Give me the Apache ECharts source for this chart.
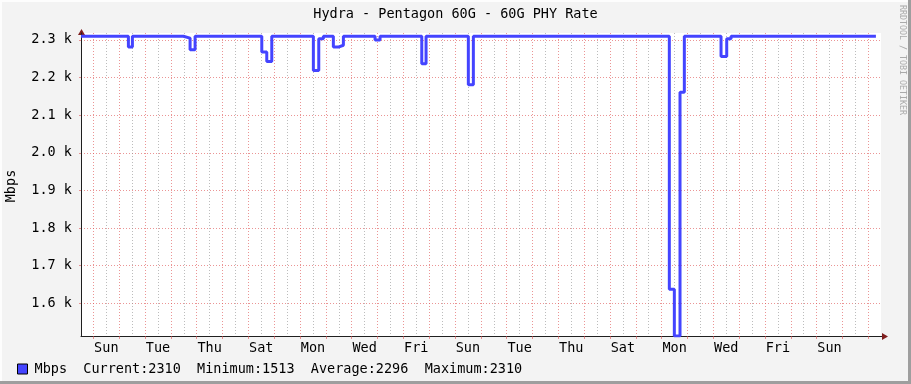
<!DOCTYPE html>
<html><head><meta charset="utf-8">
<script src="https://cdn.jsdelivr.net/npm/echarts@6/dist/echarts.min.js"></script>
<style>html,body{margin:0;padding:0;background:#f3f3f3}#c{width:911px;height:384px}</style>
</head><body><div id="c"></div>
<script>
// ---- data ----
const chartTitle = 'Hydra - Pentagon 60G - 60G PHY Rate';
const unitLabel = 'Mbps';
// time in days, 0 = first midnight shown (Sat->Sun)
const times  = [-0.48, 1.355, 1.510, 3.484, 3.743, 3.937, 6.519, 6.712, 6.906, 8.516, 8.725, 8.903,
                9.290, 9.484, 9.678, 10.905, 11.098, 12.713, 12.879, 14.516, 14.710,
                22.297, 22.491, 22.711, 22.878, 24.299, 24.519, 24.686, 30.295];
const values = [2310, 2281, 2310, 2305, 2274, 2310, 2268, 2243, 2310, 2219, 2303, 2310,
                2281, 2286, 2310, 2300, 2310, 2237, 2310, 2181, 2310,
                1637, 1513, 2161, 2310, 2256, 2303, 2310, 2310];
const yTicks = [1600, 1700, 1800, 1900, 2000, 2100, 2200, 2300];
const dayNames = ['Sun','Tue','Thu','Sat','Mon','Wed','Fri','Sun','Tue','Thu','Sat','Mon','Wed','Fri','Sun'];
const dayLabelPos = [0.5,2.5,4.5,6.5,8.5,10.5,12.5,14.5,16.5,18.5,20.5,22.5,24.5,26.5,28.5];
const majorGrid = [0,1,2,3,4,5,6,7,8,9,10,11,12,13,14,15,16,17,18,19,20,21,22,23,24,25,26,27,28,29,30];
const minorGrid = [0.5,1.5,2.5,3.5,4.5,5.5,6.5,7.5,8.5,9.5,10.5,11.5,12.5,13.5,14.5,15.5,16.5,17.5,18.5,19.5,20.5,21.5,22.5,23.5,24.5,25.5,26.5,27.5,28.5,29.5];
const statNames = ['Current','Minimum','Average','Maximum'];
const statValues = [2310, 1513, 2296, 2310];

// ---- chart ----
const MONO = '"DejaVu Sans Mono", monospace';
const FS = 13.5;
const MAJ = 'rgba(222,79,79,0.6)';
const MIN = 'rgba(143,143,143,0.6)';
const AXIS = '#1f1f1f';
const ARROW = '#801f1f';
const X0 = -0.48, X1 = 30.492;

const legendText = unitLabel + '  ' + statNames.map((n,i)=>n+':'+statValues[i]).join('  ');

const chart = echarts.init(document.getElementById('c'), null, {renderer:'canvas'});
chart.setOption({
  animation: false,
  backgroundColor: '#f3f3f3',
  grid: {left: 81, right: 30, top: 33, bottom: 48, show: true, backgroundColor: '#ffffff', borderWidth: 0},
  xAxis: [{
    type: 'value', min: X0, max: X1,
    axisLine: {show: true, onZero: false, lineStyle: {color: AXIS, width: 1}},
    axisTick: {show: true, customValues: majorGrid, length: 3, lineStyle: {color: MAJ}},
    splitLine: {show: true, lineStyle: {color: MAJ, type: [1, 2], width: 1}},
    axisLabel: {customValues: dayLabelPos, margin: 5, color: '#000', fontFamily: MONO, fontSize: FS,
      formatter: v => dayNames[Math.round((v - 0.5) / 2)]}
  }, {
    type: 'value', min: X0, max: X1, position: 'bottom',
    axisLine: {show: false}, axisLabel: {show: false},
    axisTick: {show: false, customValues: minorGrid},
    splitLine: {show: true, lineStyle: {color: MIN, type: [1, 2], width: 1}}
  }],
  yAxis: {
    type: 'value', min: 1513, max: 2318.5,
    axisLine: {show: true, onZero: false, lineStyle: {color: AXIS, width: 1}},
    axisTick: {show: true, customValues: yTicks, length: 2, lineStyle: {color: MAJ}},
    splitLine: {show: true, lineStyle: {color: MAJ, type: [1, 2], width: 1}},
    axisLabel: {customValues: yTicks, margin: 9, color: '#000', fontFamily: MONO, fontSize: FS,
      formatter: v => (v / 1000).toFixed(1) + ' k'}
  },
  legend: {
    left: 17, top: 362, padding: 0, itemWidth: 10, itemHeight: 10, icon: 'rect', selectedMode: false,
    itemStyle: {color: '#4444ff', borderColor: '#000', borderWidth: 1},
    textStyle: {fontFamily: MONO, fontSize: FS, color: '#000', padding: [0, 0, 0, 2]},
    formatter: () => legendText,
    data: [unitLabel]
  },
  series: [{
    name: unitLabel, type: 'line', step: 'end', showSymbol: false, xAxisIndex: 0,
    data: times.map((t, i) => [t, values[i]]),
    lineStyle: {color: '#4444ff', width: 3}, itemStyle: {color: '#4444ff'},
    emphasis: {disabled: true}, silent: true
  }],
  graphic: [
    {type: 'rect', shape: {x: 0, y: 0, width: 911, height: 2}, style: {fill: '#fdfdfd'}, silent: true},
    {type: 'rect', shape: {x: 0, y: 0, width: 2, height: 384}, style: {fill: '#fdfdfd'}, silent: true},
    {type: 'rect', shape: {x: 908, y: 0, width: 3, height: 384}, style: {fill: '#9e9e9e'}, silent: true},
    {type: 'rect', shape: {x: 0, y: 381, width: 911, height: 3}, style: {fill: '#9e9e9e'}, silent: true},
    {type: 'text', x: 455.5, y: 14, silent: true,
      style: {text: chartTitle, font: FS + 'px ' + MONO, fill: '#000', align: 'center', verticalAlign: 'middle'}},
    {type: 'text', x: 11, y: 186, rotation: Math.PI / 2, silent: true,
      style: {text: unitLabel, font: FS + 'px ' + MONO, fill: '#000', align: 'center', verticalAlign: 'middle'}},
    {type: 'text', x: 902.5, y: 60, rotation: -Math.PI / 2, silent: true,
      style: {text: 'RRDTOOL / TOBI OETIKER', font: '8.3px ' + MONO, fill: '#aaaaaa', align: 'center', verticalAlign: 'middle'}},
    {type: 'line', shape: {x1: 881, y1: 336.5, x2: 884, y2: 336.5}, style: {stroke: AXIS, lineWidth: 1}, silent: true},
    {type: 'line', shape: {x1: 81.5, y1: 33, x2: 81.5, y2: 31}, style: {stroke: AXIS, lineWidth: 1}, silent: true},
    {type: 'polygon', shape: {points: [[882, 333], [882, 340], [888, 336.5]]}, style: {fill: ARROW}, silent: true},
    {type: 'polygon', shape: {points: [[78, 35], [85, 35], [81.5, 29]]}, style: {fill: ARROW}, silent: true}
  ]
});
</script></body></html>
